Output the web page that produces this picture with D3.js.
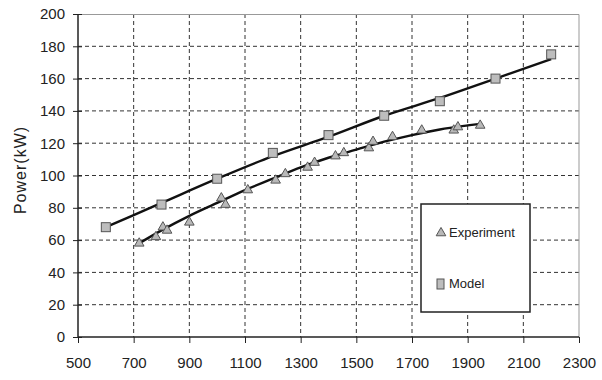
<!DOCTYPE html>
<html lang="en">
  <meta charset="UTF-8" />
  <title>Power vs speed</title>
  <style>
    body { margin: 0; background: #fff; }
    text { font-family: "Liberation Sans", Arial, sans-serif; fill: #222; }
  </style>
  <script src="https://d3js.org/d3.v7.min.js"></script>
  <body>
    <div id="chart"></div>
  <script>
    // measured points
    let experiment = [
      [720, 58], [780, 62], [805, 68], [820, 66], [900, 71], [1015, 86], [1030, 82],
      [1110, 91], [1210, 97], [1245, 101], [1325, 105], [1350, 108], [1425, 112],
      [1455, 114], [1545, 117], [1560, 121], [1630, 124], [1735, 128], [1850, 128],
      [1865, 130], [1945, 131]
    ];
    let model = [
      [600, 68], [800, 82], [1000, 98], [1200, 114], [1400, 125], [1600, 137],
      [1800, 146], [2000, 160], [2200, 175]
    ];
    // trend lines
    let expFit = [
      [710, 57], [800, 66], [900, 75], [1000, 83], [1100, 91], [1200, 98], [1300, 105],
      [1400, 111], [1500, 116], [1600, 121], [1700, 125], [1800, 128.5], [1900, 131], [1945, 132]
    ];
    let modelFit = [
      [600, 68], [800, 83], [1000, 98], [1200, 112], [1400, 124], [1600, 137],
      [1800, 148], [2000, 160], [2200, 172]
    ];
    let xTicks = [500, 700, 900, 1100, 1300, 1500, 1700, 1900, 2100, 2300];
    let yTicks = [0, 20, 40, 60, 80, 100, 120, 140, 160, 180, 200];

    var margin = { top: 14, right: 23, bottom: 43, left: 78 },
      width = 602 - margin.left - margin.right,
      height = 380 - margin.top - margin.bottom;

    var svg = d3.select("#chart").append("svg")
      .attr("width", 602).attr("height", 380)
      .append("g")
      .attr("transform", "translate(" + margin.left + "," + margin.top + ")");

    var x = d3.scaleLinear().domain([500, 2300]).range([0, width]);
    var y = d3.scaleLinear().domain([0, 200]).range([height, 0]);

    // grid
    svg.append("g").selectAll("line").data(yTicks.slice(1, -1)).enter().append("line")
      .attr("x1", 0).attr("x2", width).attr("y1", d => y(d)).attr("y2", d => y(d))
      .attr("stroke", "#333").attr("stroke-dasharray", "4,3");
    svg.append("g").selectAll("line").data(xTicks.slice(1, -1)).enter().append("line")
      .attr("y1", 0).attr("y2", height).attr("x1", d => x(d)).attr("x2", d => x(d))
      .attr("stroke", "#333").attr("stroke-dasharray", "4,3");

    // top / right border
    svg.append("path").attr("d", "M0,0.5H" + width + "V" + height)
      .attr("fill", "none").attr("stroke", "#999");

    // axes
    var yAxis = svg.append("g").call(d3.axisLeft(y).tickValues(yTicks).tickSize(5).tickPadding(8));
    yAxis.selectAll(".tick line").attr("x2", -5).attr("x1", 4).attr("stroke", "#222");
    yAxis.select(".domain").attr("stroke", "#222").attr("stroke-width", 1.5).attr("d", "M0,0V" + height);
    yAxis.selectAll("text").style("font-size", "15px").attr("fill", "#222");

    var xAxis = svg.append("g").attr("transform", "translate(0," + height + ")")
      .call(d3.axisBottom(x).tickValues(xTicks).tickFormat(d3.format("d")).tickSize(6).tickPadding(14));
    xAxis.selectAll(".tick line").attr("stroke", "#222");
    xAxis.select(".domain").attr("stroke", "#222").attr("stroke-width", 1.5).attr("d", "M0,0H" + width);
    xAxis.selectAll("text").style("font-size", "15px").attr("fill", "#222");
    d3.selectAll("g").attr("font-family", null);

    // axis title
    svg.append("text")
      .attr("transform", "translate(-52," + (170 - margin.top) + ") rotate(-90)")
      .attr("text-anchor", "middle").style("font-size", "16px").style("letter-spacing", "1px")
      .text("Power(kW)");

    // trend lines
    var line = d3.line().x(d => x(d[0])).y(d => y(d[1])).curve(d3.curveMonotoneX);
    svg.append("path").datum(modelFit).attr("d", line)
      .attr("fill", "none").attr("stroke", "#111").attr("stroke-width", 2.4);
    svg.append("path").datum(expFit).attr("d", line)
      .attr("fill", "none").attr("stroke", "#111").attr("stroke-width", 2.4);

    // markers
    var tri = d3.symbol().type(d3.symbolTriangle).size(40);
    svg.append("g").selectAll("path").data(experiment).enter().append("path")
      .attr("d", tri)
      .attr("transform", d => "translate(" + x(d[0]) + "," + y(d[1]) + ")")
      .attr("fill", "#b8b8b8").attr("stroke", "#555").attr("stroke-width", 1);
    svg.append("g").selectAll("rect").data(model).enter().append("rect")
      .attr("x", d => x(d[0]) - 4.5).attr("y", d => y(d[1]) - 4.5)
      .attr("width", 9).attr("height", 9)
      .attr("fill", "#bdbdbd").attr("stroke", "#555").attr("stroke-width", 1);

    // legend
    var lg = svg.append("g").attr("transform", "translate(" + (421 - margin.left) + "," + (204 - margin.top) + ")");
    lg.append("rect").attr("width", 109).attr("height", 108)
      .attr("fill", "#fff").attr("stroke", "#222").attr("stroke-width", 1.5);
    lg.append("path").attr("d", tri).attr("transform", "translate(20,29)")
      .attr("fill", "#b8b8b8").attr("stroke", "#555");
    lg.append("text").attr("x", 28).attr("y", 33).style("font-size", "13px").text("Experiment");
    lg.append("rect").attr("x", 16).attr("y", 75).attr("width", 7).attr("height", 10)
      .attr("fill", "#bdbdbd").attr("stroke", "#555");
    lg.append("text").attr("x", 28).attr("y", 84).style("font-size", "13px").text("Model");
  </script>
  </body>
</html>
